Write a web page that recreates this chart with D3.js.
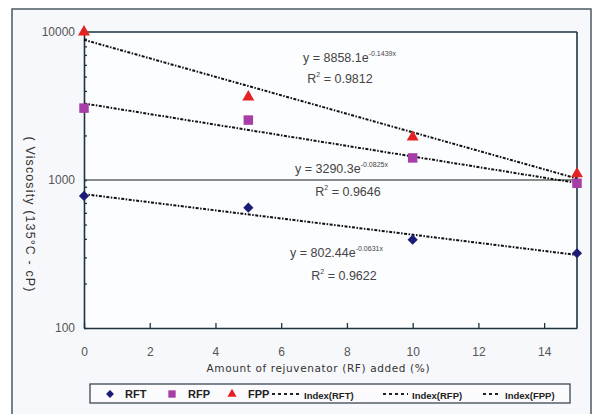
<!DOCTYPE html>
<html>
<head>
<meta charset="utf-8">
<script src="https://cdn.jsdelivr.net/npm/d3@7"></script>
<style>
body { margin: 0; background: #ffffff; }
svg { display: block; font-family: "Liberation Sans", Arial, sans-serif; }
</style>
</head>
<body>
<svg id="chart"></svg>
<script>
// data
const amounts = [0, 5, 10, 15];
const rft = [780, 650, 395, 320];
const rfp = [3060, 2540, 1410, 950];
const fpp = [10000, 3640, 1950, 1100];

const seriesNames = ["RFT", "RFP", "FPP"];
const fitA = [802.44, 3290.3, 8858.1];
const fitB = [-0.0631, -0.0825, -0.1439];
const fitEq = ["y = 802.44e", "y = 3290.3e", "y = 8858.1e"];
const fitExp = ["-0.0631x", "-0.0825x", "-0.1439x"];
const fitR2 = ["0.9622", "0.9646", "0.9812"];

const xTicks = [0, 2, 4, 6, 8, 10, 12, 14];
const yTicks = [100, 1000, 10000];

const svgWidth = 594, svgHeight = 414;
const margin = {top: 32, right: 17, bottom: 86, left: 84},
    width = svgWidth - margin.left - margin.right,
    height = svgHeight - margin.top - margin.bottom;

const svg = d3.select('#chart')
    .attr("width", svgWidth)
    .attr("height", svgHeight);

// outer frame
svg.append("rect")
    .attr("x", 12).attr("y", 9)
    .attr("width", 579).attr("height", 410)
    .attr("fill", "#f7f8fb")
    .attr("stroke", "#4a5a62")
    .attr("stroke-width", 1.5);

const chart = svg.append("g")
    .attr("transform", "translate(" + margin.left + "," + margin.top + ")");

const x = d3.scaleLinear().domain([0, 15]).range([0, width]);
const y = d3.scaleLog().domain([100, 10000]).range([height, 0]);

chart.append("rect")
    .attr("width", width).attr("height", height)
    .attr("fill", "#fcfdff");

// 1000 gridline
chart.append("line")
    .attr("x1", 0).attr("x2", width)
    .attr("y1", y(1000)).attr("y2", y(1000))
    .attr("stroke", "#666").attr("stroke-width", 1.6);

// axes, ticks pointing inward
const xAxis = chart.append("g")
    .attr("transform", "translate(0," + height + ")")
    .call(d3.axisBottom(x).tickValues(xTicks).tickSizeInner(-5).tickSizeOuter(0).tickPadding(19));

const minor = [];
[100, 1000].forEach(function(b){ for (let k = 2; k <= 9; k++) minor.push(b * k); });

const yAxis = chart.append("g")
    .call(d3.axisLeft(y).tickValues(yTicks.concat(minor)).tickFormat(function(d){ return yTicks.indexOf(d) >= 0 ? d : ""; })
      .tickSizeInner(-3).tickSizeOuter(0).tickPadding(9));

[xAxis, yAxis].forEach(function(g){
  g.select(".domain").attr("stroke", "#1d3440").attr("stroke-width", 1.6);
  g.selectAll(".tick line").attr("stroke", "#1d3440").attr("stroke-width", 1.3);
  g.selectAll("text").attr("fill", "#555").style("font-size", "12px")
    .style("font-family", "'Liberation Sans', Arial, sans-serif");
});

// top and right border
chart.append("line").attr("x1", 0).attr("x2", width).attr("y1", 0).attr("y2", 0)
    .attr("stroke", "#1d3440").attr("stroke-width", 1.6);
chart.append("line").attr("x1", width).attr("x2", width).attr("y1", 0).attr("y2", height)
    .attr("stroke", "#1d3440").attr("stroke-width", 1.6);

// trendlines
const line = d3.line().x(function(d){ return x(d[0]); }).y(function(d){ return y(d[1]); });
fitA.forEach(function(a, i){
  const pts = [0, 15].map(function(v){ return [v, a * Math.exp(fitB[i] * v)]; });
  chart.append("path")
      .attr("d", line(pts))
      .attr("fill", "none")
      .attr("stroke", "#111")
      .attr("stroke-width", 2)
      .attr("stroke-dasharray", "3,1.5,1.5,1.5");
});

// markers
const allSeries = [rft, rfp, fpp];
const colors = ["#1c1c78", "#a73ea8", "#e32222"];
const symbols = [d3.symbolSquare, d3.symbolSquare, d3.symbolTriangle];
const sizes = [52, 90, 62];
const rotate = ["rotate(45)", "", ""];

allSeries.forEach(function(vals, i){
  chart.append("g").selectAll("path")
    .data(vals)
    .enter()
    .append("path")
      .attr("d", d3.symbol().type(symbols[i]).size(sizes[i]))
      .attr("transform", function(d, j){
        return "translate(" + x(amounts[j]) + "," + y(d) + ")" + rotate[i];
      })
      .attr("fill", colors[i]);
});

// equation labels
const eqPos = [[206, 225], [211, 141], [219, 30]];
const r2Pos = [[260, 248], [264, 164], [256, 51]];
fitEq.forEach(function(t, i){
  const tx = chart.append("text")
      .attr("x", eqPos[i][0]).attr("y", eqPos[i][1])
      .attr("fill", "#444").style("font-size", "12.5px")
      .attr("text-anchor", "start");
  tx.append("tspan").text(t);
  tx.append("tspan").attr("dy", -6).style("font-size", "7px").text(fitExp[i]);

  const r = chart.append("text")
      .attr("x", r2Pos[i][0]).attr("y", r2Pos[i][1])
      .attr("fill", "#444").style("font-size", "12.5px")
      .attr("text-anchor", "middle");
  r.append("tspan").text("R");
  r.append("tspan").attr("dy", -6).style("font-size", "7px").text("2");
  r.append("tspan").attr("dy", 6).text(" = " + fitR2[i]);
});

// axis titles
svg.append("text")
    .attr("x", 318).attr("y", 372)
    .attr("text-anchor", "middle")
    .attr("fill", "#333")
    .style("font-family", "'DejaVu Sans', sans-serif")
    .style("font-size", "10.5px")
    .attr("textLength", 223)
    .attr("lengthAdjust", "spacing")
    .text("Amount of rejuvenator (RF) added (%)");

svg.append("text")
    .attr("transform", "translate(26,214) rotate(90)")
    .attr("text-anchor", "middle")
    .attr("fill", "#333")
    .style("font-size", "12.5px")
    .attr("textLength", 155)
    .attr("lengthAdjust", "spacing")
    .text("( Viscosity (135°C -    cP)");

// legend
const legend = svg.append("g");
legend.append("rect")
    .attr("x", 90).attr("y", 384).attr("width", 480).attr("height", 19)
    .attr("fill", "#fbfbfd")
    .attr("stroke", "#2a3a44").attr("stroke-width", 1.2);

const legMarkX = [110, 172, 232];
const legTextX = [125, 188, 248];
seriesNames.forEach(function(n, i){
  legend.append("path")
      .attr("d", d3.symbol().type(symbols[i]).size(sizes[i] * 0.6))
      .attr("transform", "translate(" + legMarkX[i] + ",394)" + rotate[i])
      .attr("fill", colors[i]);
  legend.append("text")
      .attr("x", legTextX[i]).attr("y", 398)
      .attr("fill", "#222").style("font-size", "11px").style("font-weight", "bold")
      .text(n);
});

const idxLine = [[272, 300], [383, 408], [483, 500]];
const idxText = [304, 412, 505];
seriesNames.forEach(function(n, i){
  legend.append("line")
      .attr("x1", idxLine[i][0]).attr("x2", idxLine[i][1])
      .attr("y1", 394).attr("y2", 394)
      .attr("stroke", "#222").attr("stroke-width", 1.8)
      .attr("stroke-dasharray", "3,3");
  legend.append("text")
      .attr("x", idxText[i]).attr("y", 399)
      .attr("fill", "#222").style("font-size", "9.5px").style("font-weight", "bold")
      .text("Index(" + n + ")");
});
</script>
</body>
</html>
